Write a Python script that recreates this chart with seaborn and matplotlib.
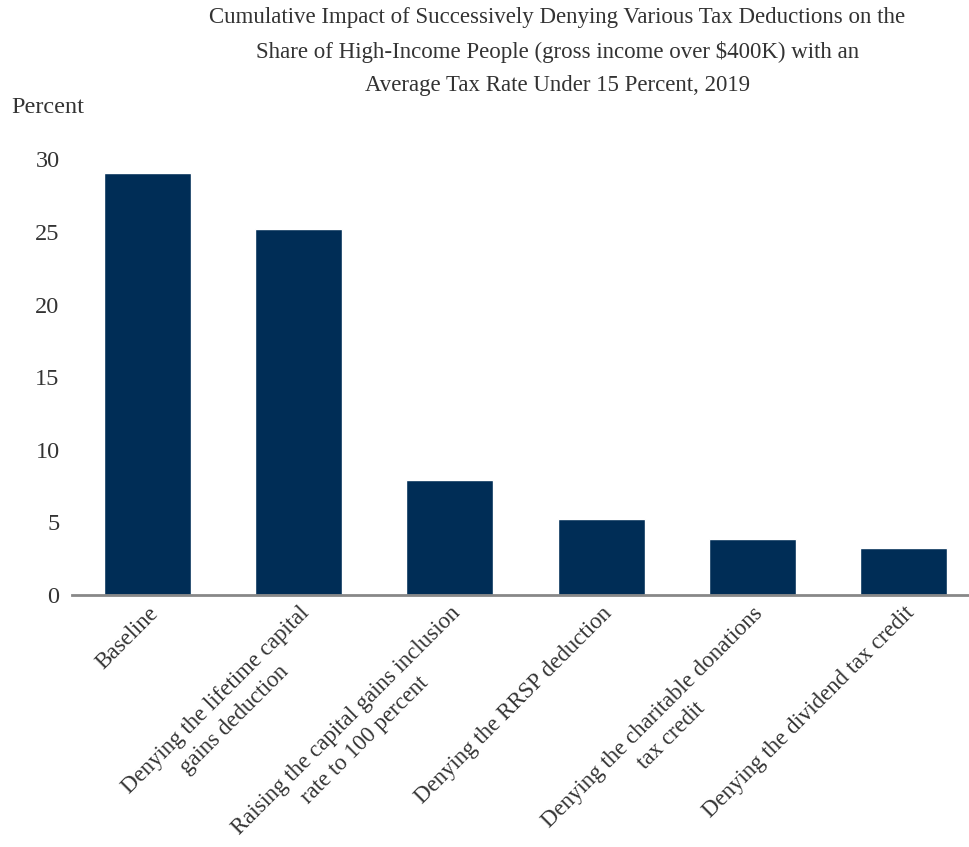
import matplotlib
matplotlib.use("Agg")
import matplotlib.pyplot as plt
import seaborn as sns
import pandas as pd

categories = [
    "Baseline",
    "Denying the lifetime capital\ngains deduction",
    "Raising the capital gains inclusion\nrate to 100 percent",
    "Denying the RRSP deduction",
    "Denying the charitable donations\ntax credit",
    "Denying the dividend tax credit",
]
values = [29.1, 25.2, 7.9, 5.2, 3.8, 3.2]
yticks = [0, 5, 10, 15, 20, 25, 30]
title = ("Cumulative Impact of Successively Denying Various Tax Deductions on the\n"
         "Share of High-Income People (gross income over $400K) with an\n"
         "Average Tax Rate Under 15 Percent, 2019")

sns.set_style("white")
plt.rcParams['font.family'] = ['Liberation Serif', 'DejaVu Serif']
text_color = "#333333"

df = pd.DataFrame({"category": categories, "value": values})

fig = plt.figure(figsize=(9.69, 8.47), dpi=100)
ax = fig.add_axes([0.0743, 0.298, 0.9257, 0.5137])
sns.barplot(data=df, x="category", y="value", color="#002D56", width=0.576,
            saturation=1, ax=ax)
ax.set_xlim(-0.5, 5.434)
ax.set_ylim(0, 30)
ax.set_yticks(yticks)
ax.set_yticklabels([str(t) for t in yticks], fontsize=17.5, color=text_color)
ax.set_xlabel("")
ax.set_ylabel("")
for s in ["top", "right", "left"]:
    ax.spines[s].set_visible(False)
ax.spines["bottom"].set_color("#888888")
ax.spines["bottom"].set_linewidth(2)
ax.tick_params(axis="both", length=0)
ax.tick_params(axis="y", pad=9)
ax.set_xticks(range(len(categories)))
ax.set_xticklabels(categories, rotation=45, ha="right", rotation_mode="anchor",
                   fontsize=16.5, color=text_color, multialignment="center",
                   linespacing=1.35)
ax.tick_params(axis="x", pad=6)

fig.text(0.575, 0.992, title, ha="center", va="top", fontsize=16.5, color=text_color,
         linespacing=1.75)
fig.text(0.012, 0.873, "Percent", ha="left", va="center", fontsize=17.5, color=text_color)

fig.savefig("out.png", dpi=100)
